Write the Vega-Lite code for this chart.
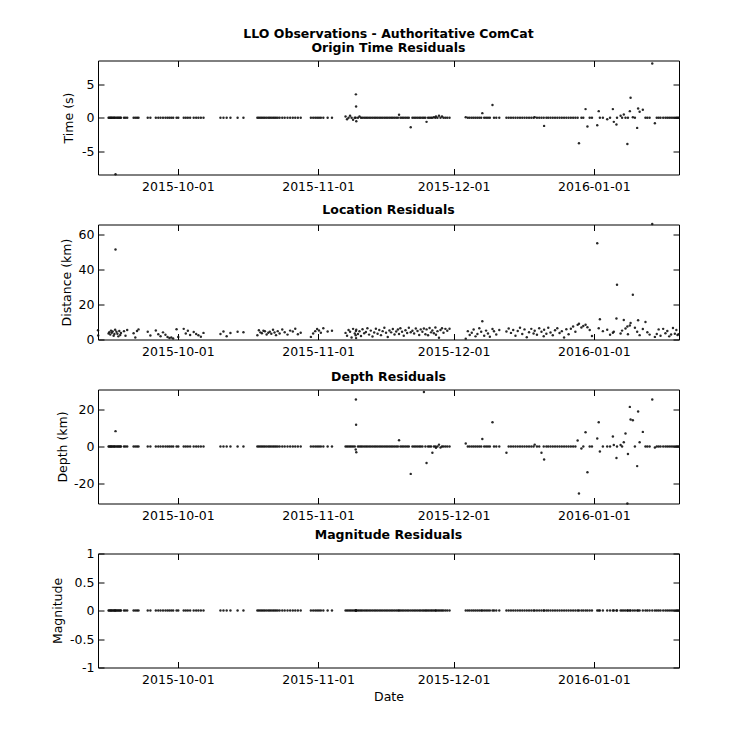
{
"$schema": "https://vega.github.io/schema/vega-lite/v6.json",
"padding": {"left": 50, "top": 26.5, "right": 10, "bottom": 10},
"background": "#ffffff",
"datasets": {"ev": [
{"date":"2015-09-13T08:00Z","time":null,"dist":5.3,"depth":null,"mag":null},
{"date":"2015-09-13T09:00Z","time":null,"dist":2.3,"depth":null,"mag":null},
{"date":"2015-09-15T16:00Z","time":0,"dist":3.5,"depth":0,"mag":0},
{"date":"2015-09-15T20:00Z","time":0,"dist":4.2,"depth":0,"mag":0},
{"date":"2015-09-16T01:00Z","time":0,"dist":2.8,"depth":0,"mag":0},
{"date":"2015-09-16T05:00Z","time":0,"dist":5.1,"depth":0,"mag":0},
{"date":"2015-09-16T09:00Z","time":0,"dist":3.9,"depth":0,"mag":0},
{"date":"2015-09-16T14:00Z","time":0,"dist":4.6,"depth":0,"mag":0},
{"date":"2015-09-16T19:00Z","time":0,"dist":2.2,"depth":0,"mag":0},
{"date":"2015-09-16T23:00Z","time":0,"dist":3.1,"depth":0,"mag":0},
{"date":"2015-09-17T03:00Z","time":0,"dist":5.6,"depth":0,"mag":0},
{"date":"2015-09-17T05:00Z","time":-8.4,"dist":51.6,"depth":8.3,"mag":0},
{"date":"2015-09-17T10:00Z","time":0,"dist":4.4,"depth":0,"mag":0},
{"date":"2015-09-17T15:00Z","time":0,"dist":3.3,"depth":0,"mag":0},
{"date":"2015-09-17T20:00Z","time":0,"dist":1.8,"depth":0,"mag":0},
{"date":"2015-09-18T01:00Z","time":0,"dist":4.9,"depth":0,"mag":0},
{"date":"2015-09-18T06:00Z","time":0,"dist":2.6,"depth":0,"mag":0},
{"date":"2015-09-18T10:00Z","time":0,"dist":3.7,"depth":0,"mag":0},
{"date":"2015-09-19T02:00Z","time":0,"dist":4.8,"depth":0,"mag":0},
{"date":"2015-09-19T10:00Z","time":0,"dist":2.1,"depth":0,"mag":0},
{"date":"2015-09-19T19:00Z","time":0,"dist":5.5,"depth":0,"mag":0},
{"date":"2015-09-21T05:00Z","time":0,"dist":3.6,"depth":0,"mag":0},
{"date":"2015-09-21T14:00Z","time":0,"dist":1.2,"depth":0,"mag":0},
{"date":"2015-09-21T23:00Z","time":0,"dist":4.9,"depth":0,"mag":0},
{"date":"2015-09-22T07:00Z","time":0,"dist":5.8,"depth":0,"mag":0},
{"date":"2015-09-24T08:00Z","time":0,"dist":4.5,"depth":0,"mag":0},
{"date":"2015-09-24T22:00Z","time":0,"dist":2.3,"depth":0,"mag":0},
{"date":"2015-09-26T03:00Z","time":0,"dist":5.2,"depth":0,"mag":0},
{"date":"2015-09-26T16:00Z","time":0,"dist":3.0,"depth":0,"mag":0},
{"date":"2015-09-27T04:00Z","time":0,"dist":1.9,"depth":0,"mag":0},
{"date":"2015-09-27T17:00Z","time":0,"dist":4.1,"depth":0,"mag":0},
{"date":"2015-09-28T06:00Z","time":0,"dist":2.7,"depth":0,"mag":0},
{"date":"2015-09-28T17:00Z","time":0,"dist":1.4,"depth":0,"mag":0},
{"date":"2015-09-29T03:00Z","time":0,"dist":0.9,"depth":0,"mag":0},
{"date":"2015-09-29T13:00Z","time":0,"dist":1.2,"depth":0,"mag":0},
{"date":"2015-09-29T23:00Z","time":0,"dist":0.6,"depth":0,"mag":0},
{"date":"2015-09-30T17:00Z","time":0,"dist":5.9,"depth":0,"mag":0},
{"date":"2015-10-01T02:00Z","time":0,"dist":1.5,"depth":0,"mag":0},
{"date":"2015-10-02T07:00Z","time":0,"dist":6.1,"depth":0,"mag":0},
{"date":"2015-10-02T18:00Z","time":0,"dist":3.4,"depth":0,"mag":0},
{"date":"2015-10-03T05:00Z","time":0,"dist":5.0,"depth":0,"mag":0},
{"date":"2015-10-03T17:00Z","time":0,"dist":2.6,"depth":0,"mag":0},
{"date":"2015-10-04T12:00Z","time":0,"dist":4.3,"depth":0,"mag":0},
{"date":"2015-10-05T01:00Z","time":0,"dist":3.1,"depth":0,"mag":0},
{"date":"2015-10-05T13:00Z","time":0,"dist":2.4,"depth":0,"mag":0},
{"date":"2015-10-06T02:00Z","time":0,"dist":1.6,"depth":0,"mag":0},
{"date":"2015-10-06T16:00Z","time":0,"dist":3.8,"depth":0,"mag":0},
{"date":"2015-10-10T10:00Z","time":0,"dist":3.2,"depth":0,"mag":0},
{"date":"2015-10-11T02:00Z","time":0,"dist":4.6,"depth":0,"mag":0},
{"date":"2015-10-11T19:00Z","time":0,"dist":1.9,"depth":0,"mag":0},
{"date":"2015-10-12T15:00Z","time":0,"dist":3.7,"depth":0,"mag":0},
{"date":"2015-10-14T05:00Z","time":0,"dist":4.5,"depth":0,"mag":0},
{"date":"2015-10-15T12:00Z","time":0,"dist":4.2,"depth":0,"mag":0},
{"date":"2015-10-18T14:00Z","time":0,"dist":2.4,"depth":0,"mag":0},
{"date":"2015-10-18T22:00Z","time":0,"dist":5.3,"depth":0,"mag":0},
{"date":"2015-10-19T06:00Z","time":0,"dist":4.1,"depth":0,"mag":0},
{"date":"2015-10-19T14:00Z","time":0,"dist":3.6,"depth":0,"mag":0},
{"date":"2015-10-19T22:00Z","time":0,"dist":5.0,"depth":0,"mag":0},
{"date":"2015-10-20T06:00Z","time":0,"dist":4.7,"depth":0,"mag":0},
{"date":"2015-10-20T15:00Z","time":0,"dist":2.9,"depth":0,"mag":0},
{"date":"2015-10-21T00:00Z","time":0,"dist":3.9,"depth":0,"mag":0},
{"date":"2015-10-21T08:00Z","time":0,"dist":4.4,"depth":0,"mag":0},
{"date":"2015-10-21T16:00Z","time":0,"dist":3.3,"depth":0,"mag":0},
{"date":"2015-10-22T01:00Z","time":0,"dist":5.6,"depth":0,"mag":0},
{"date":"2015-10-22T09:00Z","time":0,"dist":4.0,"depth":0,"mag":0},
{"date":"2015-10-22T17:00Z","time":0,"dist":2.5,"depth":0,"mag":0},
{"date":"2015-10-23T02:00Z","time":0,"dist":4.8,"depth":0,"mag":0},
{"date":"2015-10-23T12:00Z","time":0,"dist":3.5,"depth":0,"mag":0},
{"date":"2015-10-24T02:00Z","time":0,"dist":5.7,"depth":0,"mag":0},
{"date":"2015-10-24T15:00Z","time":0,"dist":4.2,"depth":0,"mag":0},
{"date":"2015-10-25T06:00Z","time":0,"dist":2.8,"depth":0,"mag":0},
{"date":"2015-10-25T20:00Z","time":0,"dist":5.1,"depth":0,"mag":0},
{"date":"2015-10-26T10:00Z","time":0,"dist":4.6,"depth":0,"mag":0},
{"date":"2015-10-26T23:00Z","time":0,"dist":6.2,"depth":0,"mag":0},
{"date":"2015-10-27T13:00Z","time":0,"dist":3.0,"depth":0,"mag":0},
{"date":"2015-10-28T04:00Z","time":0,"dist":3.9,"depth":0,"mag":0},
{"date":"2015-10-30T10:00Z","time":0,"dist":1.5,"depth":0,"mag":0},
{"date":"2015-10-30T22:00Z","time":0,"dist":3.4,"depth":0,"mag":0},
{"date":"2015-10-31T09:00Z","time":0,"dist":4.8,"depth":0,"mag":0},
{"date":"2015-10-31T19:00Z","time":0,"dist":6.0,"depth":0,"mag":0},
{"date":"2015-11-01T05:00Z","time":0,"dist":5.2,"depth":0,"mag":0},
{"date":"2015-11-01T15:00Z","time":0,"dist":3.9,"depth":0,"mag":0},
{"date":"2015-11-02T04:00Z","time":0,"dist":6.4,"depth":0,"mag":0},
{"date":"2015-11-03T03:00Z","time":0,"dist":4.6,"depth":0,"mag":0},
{"date":"2015-11-04T02:00Z","time":0,"dist":5.0,"depth":0,"mag":0},
{"date":"2015-11-07T02:00Z","time":0.2,"dist":3.8,"depth":0,"mag":0},
{"date":"2015-11-07T10:00Z","time":-0.2,"dist":2.1,"depth":0,"mag":0},
{"date":"2015-11-07T18:00Z","time":0,"dist":5.4,"depth":0,"mag":0},
{"date":"2015-11-08T02:00Z","time":0.3,"dist":4.4,"depth":0,"mag":0},
{"date":"2015-11-08T10:00Z","time":0,"dist":1.2,"depth":0,"mag":0},
{"date":"2015-11-08T18:00Z","time":-0.3,"dist":6.1,"depth":0,"mag":0},
{"date":"2015-11-09T03:00Z","time":0,"dist":3.5,"depth":0,"mag":0},
{"date":"2015-11-09T08:00Z","time":0,"dist":2.4,"depth":-1.6,"mag":0},
{"date":"2015-11-09T09:00Z","time":3.5,"dist":4.9,"depth":25.4,"mag":0},
{"date":"2015-11-09T10:00Z","time":1.7,"dist":0.8,"depth":11.7,"mag":0},
{"date":"2015-11-09T11:00Z","time":-0.5,"dist":5.6,"depth":-3.1,"mag":0},
{"date":"2015-11-09T20:00Z","time":0,"dist":3.1,"depth":0,"mag":0},
{"date":"2015-11-10T04:00Z","time":0.2,"dist":4.7,"depth":0,"mag":0},
{"date":"2015-11-10T12:00Z","time":0,"dist":2.0,"depth":0,"mag":0},
{"date":"2015-11-10T20:00Z","time":0,"dist":5.9,"depth":0,"mag":0},
{"date":"2015-11-11T05:00Z","time":0,"dist":3.6,"depth":0,"mag":0},
{"date":"2015-11-11T14:00Z","time":0,"dist":4.3,"depth":0,"mag":0},
{"date":"2015-11-11T22:00Z","time":0,"dist":6.5,"depth":0,"mag":0},
{"date":"2015-11-12T07:00Z","time":0,"dist":2.8,"depth":0,"mag":0},
{"date":"2015-11-12T16:00Z","time":0,"dist":5.1,"depth":0,"mag":0},
{"date":"2015-11-13T01:00Z","time":0,"dist":1.7,"depth":0,"mag":0},
{"date":"2015-11-13T10:00Z","time":0,"dist":4.0,"depth":0,"mag":0},
{"date":"2015-11-13T19:00Z","time":0,"dist":6.2,"depth":0,"mag":0},
{"date":"2015-11-14T04:00Z","time":0,"dist":3.3,"depth":0,"mag":0},
{"date":"2015-11-14T13:00Z","time":0,"dist":5.5,"depth":0,"mag":0},
{"date":"2015-11-14T22:00Z","time":0,"dist":2.5,"depth":0,"mag":0},
{"date":"2015-11-15T07:00Z","time":0,"dist":4.8,"depth":0,"mag":0},
{"date":"2015-11-15T16:00Z","time":0,"dist":6.7,"depth":0,"mag":0},
{"date":"2015-11-16T01:00Z","time":0,"dist":3.9,"depth":0,"mag":0},
{"date":"2015-11-16T10:00Z","time":0,"dist":1.4,"depth":0,"mag":0},
{"date":"2015-11-16T19:00Z","time":0,"dist":5.2,"depth":0,"mag":0},
{"date":"2015-11-17T04:00Z","time":0,"dist":4.1,"depth":0,"mag":0},
{"date":"2015-11-17T13:00Z","time":0,"dist":6.0,"depth":0,"mag":0},
{"date":"2015-11-17T22:00Z","time":0,"dist":2.9,"depth":0,"mag":0},
{"date":"2015-11-18T07:00Z","time":0,"dist":4.6,"depth":0,"mag":0},
{"date":"2015-11-18T16:00Z","time":0,"dist":5.7,"depth":0,"mag":0},
{"date":"2015-11-18T22:00Z","time":0.45,"dist":3.2,"depth":3.4,"mag":0},
{"date":"2015-11-19T05:00Z","time":0,"dist":6.4,"depth":0,"mag":0},
{"date":"2015-11-19T14:00Z","time":0,"dist":4.5,"depth":0,"mag":0},
{"date":"2015-11-19T23:00Z","time":0,"dist":2.2,"depth":0,"mag":0},
{"date":"2015-11-20T08:00Z","time":0,"dist":5.3,"depth":0,"mag":0},
{"date":"2015-11-20T17:00Z","time":0,"dist":3.7,"depth":0,"mag":0},
{"date":"2015-11-21T02:00Z","time":0,"dist":6.8,"depth":0,"mag":0},
{"date":"2015-11-21T12:00Z","time":-1.4,"dist":4.2,"depth":-14.8,"mag":0},
{"date":"2015-11-21T21:00Z","time":0,"dist":5.0,"depth":0,"mag":0},
{"date":"2015-11-22T06:00Z","time":0,"dist":3.4,"depth":0,"mag":0},
{"date":"2015-11-22T15:00Z","time":0,"dist":6.3,"depth":0,"mag":0},
{"date":"2015-11-23T00:00Z","time":0,"dist":4.9,"depth":0,"mag":0},
{"date":"2015-11-23T09:00Z","time":0,"dist":2.6,"depth":0,"mag":0},
{"date":"2015-11-23T17:00Z","time":0,"dist":5.8,"depth":0,"mag":0},
{"date":"2015-11-24T02:00Z","time":0,"dist":4.5,"depth":0,"mag":0},
{"date":"2015-11-24T10:00Z","time":0,"dist":6.3,"depth":29.4,"mag":0},
{"date":"2015-11-24T18:00Z","time":0,"dist":3.0,"depth":0,"mag":0},
{"date":"2015-11-25T00:00Z","time":-0.6,"dist":5.8,"depth":-8.9,"mag":0},
{"date":"2015-11-25T08:00Z","time":0,"dist":2.4,"depth":0,"mag":0},
{"date":"2015-11-25T16:00Z","time":0,"dist":6.6,"depth":0,"mag":0},
{"date":"2015-11-26T00:00Z","time":0,"dist":4.1,"depth":0,"mag":0},
{"date":"2015-11-26T07:00Z","time":0,"dist":5.2,"depth":-3.4,"mag":0},
{"date":"2015-11-26T15:00Z","time":0.1,"dist":3.6,"depth":0,"mag":0},
{"date":"2015-11-26T23:00Z","time":0,"dist":6.9,"depth":0,"mag":0},
{"date":"2015-11-27T02:00Z","time":0.2,"dist":2.7,"depth":-0.7,"mag":0},
{"date":"2015-11-27T10:00Z","time":0,"dist":4.8,"depth":0,"mag":0},
{"date":"2015-11-27T18:00Z","time":0.3,"dist":1.0,"depth":1.0,"mag":0},
{"date":"2015-11-28T02:00Z","time":0,"dist":5.5,"depth":-0.5,"mag":0},
{"date":"2015-11-28T10:00Z","time":0.2,"dist":6.4,"depth":0,"mag":0},
{"date":"2015-11-28T18:00Z","time":0,"dist":3.9,"depth":0,"mag":0},
{"date":"2015-11-29T04:00Z","time":0,"dist":6.1,"depth":0,"mag":0},
{"date":"2015-11-29T14:00Z","time":0,"dist":5.0,"depth":0,"mag":0},
{"date":"2015-11-30T02:00Z","time":0,"dist":6.2,"depth":0,"mag":0},
{"date":"2015-12-03T16:00Z","time":0.1,"dist":0.5,"depth":1.6,"mag":0},
{"date":"2015-12-04T03:00Z","time":0,"dist":4.8,"depth":0,"mag":0},
{"date":"2015-12-04T13:00Z","time":0,"dist":2.6,"depth":0,"mag":0},
{"date":"2015-12-05T00:00Z","time":0,"dist":3.9,"depth":0,"mag":0},
{"date":"2015-12-05T10:00Z","time":0,"dist":5.7,"depth":0,"mag":0},
{"date":"2015-12-05T20:00Z","time":0,"dist":1.8,"depth":0,"mag":0},
{"date":"2015-12-06T06:00Z","time":0,"dist":3.2,"depth":0,"mag":0},
{"date":"2015-12-06T16:00Z","time":0,"dist":6.4,"depth":0,"mag":0},
{"date":"2015-12-07T02:00Z","time":0,"dist":4.4,"depth":0,"mag":0},
{"date":"2015-12-07T08:00Z","time":0.7,"dist":10.5,"depth":4.1,"mag":0},
{"date":"2015-12-07T18:00Z","time":0,"dist":2.2,"depth":0,"mag":0},
{"date":"2015-12-08T04:00Z","time":0,"dist":5.1,"depth":0,"mag":0},
{"date":"2015-12-08T14:00Z","time":0,"dist":3.5,"depth":0,"mag":0},
{"date":"2015-12-09T00:00Z","time":0,"dist":1.6,"depth":0,"mag":0},
{"date":"2015-12-09T14:00Z","time":1.9,"dist":6.0,"depth":13.1,"mag":0},
{"date":"2015-12-09T22:00Z","time":0,"dist":4.7,"depth":0,"mag":0},
{"date":"2015-12-10T10:00Z","time":0,"dist":2.9,"depth":0,"mag":0},
{"date":"2015-12-11T02:00Z","time":0,"dist":5.4,"depth":0,"mag":0},
{"date":"2015-12-12T16:00Z","time":0,"dist":4.6,"depth":-3.4,"mag":0},
{"date":"2015-12-13T04:00Z","time":0,"dist":6.3,"depth":0,"mag":0},
{"date":"2015-12-13T16:00Z","time":0,"dist":3.8,"depth":0,"mag":0},
{"date":"2015-12-14T04:00Z","time":0,"dist":5.5,"depth":0,"mag":0},
{"date":"2015-12-14T16:00Z","time":0,"dist":2.1,"depth":0,"mag":0},
{"date":"2015-12-15T04:00Z","time":0,"dist":4.9,"depth":0,"mag":0},
{"date":"2015-12-15T16:00Z","time":0,"dist":6.7,"depth":0,"mag":0},
{"date":"2015-12-16T04:00Z","time":0,"dist":3.2,"depth":0,"mag":0},
{"date":"2015-12-16T16:00Z","time":0,"dist":5.8,"depth":0,"mag":0},
{"date":"2015-12-17T04:00Z","time":0,"dist":1.3,"depth":0,"mag":0},
{"date":"2015-12-17T16:00Z","time":0,"dist":4.2,"depth":0,"mag":0},
{"date":"2015-12-18T04:00Z","time":0,"dist":6.1,"depth":0,"mag":0},
{"date":"2015-12-18T16:00Z","time":0,"dist":3.5,"depth":0,"mag":0},
{"date":"2015-12-18T22:00Z","time":0.1,"dist":5.0,"depth":1.0,"mag":0},
{"date":"2015-12-19T10:00Z","time":0,"dist":2.7,"depth":0,"mag":0},
{"date":"2015-12-19T22:00Z","time":0,"dist":6.4,"depth":0,"mag":0},
{"date":"2015-12-20T10:00Z","time":0,"dist":4.4,"depth":-3.4,"mag":0},
{"date":"2015-12-20T22:00Z","time":0,"dist":1.9,"depth":0,"mag":0},
{"date":"2015-12-21T00:00Z","time":-1.2,"dist":5.6,"depth":-7.0,"mag":0},
{"date":"2015-12-21T12:00Z","time":0,"dist":3.3,"depth":0,"mag":0},
{"date":"2015-12-21T22:00Z","time":0,"dist":6.8,"depth":0,"mag":0},
{"date":"2015-12-22T10:00Z","time":0,"dist":4.0,"depth":0,"mag":0},
{"date":"2015-12-22T22:00Z","time":0,"dist":2.4,"depth":0,"mag":0},
{"date":"2015-12-23T10:00Z","time":0,"dist":5.3,"depth":0,"mag":0},
{"date":"2015-12-23T22:00Z","time":0,"dist":6.5,"depth":0,"mag":0},
{"date":"2015-12-24T10:00Z","time":0,"dist":3.7,"depth":0,"mag":0},
{"date":"2015-12-24T22:00Z","time":0,"dist":4.8,"depth":0,"mag":0},
{"date":"2015-12-25T10:00Z","time":0,"dist":1.1,"depth":0,"mag":0},
{"date":"2015-12-25T22:00Z","time":0,"dist":5.9,"depth":0,"mag":0},
{"date":"2015-12-26T10:00Z","time":0,"dist":3.0,"depth":0,"mag":0},
{"date":"2015-12-26T22:00Z","time":0,"dist":6.2,"depth":0,"mag":0},
{"date":"2015-12-27T10:00Z","time":0,"dist":7.5,"depth":0,"mag":0},
{"date":"2015-12-27T22:00Z","time":0,"dist":4.5,"depth":0,"mag":0},
{"date":"2015-12-28T10:00Z","time":0,"dist":8.4,"depth":3.2,"mag":0},
{"date":"2015-12-28T17:00Z","time":-3.8,"dist":9.0,"depth":-25.4,"mag":0},
{"date":"2015-12-29T06:00Z","time":0,"dist":6.9,"depth":-1.1,"mag":0},
{"date":"2015-12-29T16:00Z","time":0,"dist":7.8,"depth":0,"mag":0},
{"date":"2015-12-30T04:00Z","time":1.3,"dist":8.5,"depth":7.7,"mag":0},
{"date":"2015-12-30T14:00Z","time":-1.3,"dist":7.0,"depth":-13.9,"mag":0},
{"date":"2015-12-31T02:00Z","time":0,"dist":5.5,"depth":0,"mag":0},
{"date":"2015-12-31T14:00Z","time":0,"dist":2.0,"depth":0,"mag":0},
{"date":"2016-01-01T18:00Z","time":-1.1,"dist":55.2,"depth":4.3,"mag":0},
{"date":"2016-01-02T02:00Z","time":1.0,"dist":6.5,"depth":13.1,"mag":0},
{"date":"2016-01-02T08:00Z","time":0,"dist":11.6,"depth":-2.7,"mag":0},
{"date":"2016-01-03T00:00Z","time":0,"dist":4.8,"depth":0,"mag":0},
{"date":"2016-01-03T23:00Z","time":-0.2,"dist":5.6,"depth":0,"mag":0},
{"date":"2016-01-04T14:00Z","time":0,"dist":2.7,"depth":0,"mag":0},
{"date":"2016-01-05T05:00Z","time":1.3,"dist":3.9,"depth":5.4,"mag":0},
{"date":"2016-01-05T10:00Z","time":-0.6,"dist":4.5,"depth":0.8,"mag":0},
{"date":"2016-01-06T00:00Z","time":-1.0,"dist":12.0,"depth":-6.2,"mag":0},
{"date":"2016-01-06T03:00Z","time":0,"dist":31.4,"depth":0,"mag":0},
{"date":"2016-01-06T22:00Z","time":0.3,"dist":3.5,"depth":0.8,"mag":0},
{"date":"2016-01-07T06:00Z","time":0,"dist":5.1,"depth":0,"mag":0},
{"date":"2016-01-07T15:00Z","time":0.5,"dist":11.2,"depth":2.3,"mag":0},
{"date":"2016-01-08T00:00Z","time":0,"dist":6.3,"depth":7.0,"mag":0},
{"date":"2016-01-08T10:00Z","time":-3.9,"dist":7.5,"depth":-30.8,"mag":0},
{"date":"2016-01-08T13:00Z","time":0,"dist":3.0,"depth":-4.0,"mag":0},
{"date":"2016-01-08T23:00Z","time":1.0,"dist":8.0,"depth":21.4,"mag":0},
{"date":"2016-01-09T03:00Z","time":3.0,"dist":9.5,"depth":14.6,"mag":0},
{"date":"2016-01-09T15:00Z","time":0.1,"dist":25.7,"depth":14.2,"mag":0},
{"date":"2016-01-10T02:00Z","time":0,"dist":6.8,"depth":0,"mag":0},
{"date":"2016-01-10T14:00Z","time":-1.5,"dist":4.4,"depth":-10.6,"mag":0},
{"date":"2016-01-10T19:00Z","time":1.4,"dist":11.0,"depth":18.9,"mag":0},
{"date":"2016-01-11T03:00Z","time":0.9,"dist":2.5,"depth":2.3,"mag":0},
{"date":"2016-01-11T20:00Z","time":1.2,"dist":6.0,"depth":7.9,"mag":0},
{"date":"2016-01-12T10:00Z","time":0,"dist":10.0,"depth":0,"mag":0},
{"date":"2016-01-12T20:00Z","time":0,"dist":4.2,"depth":0,"mag":0},
{"date":"2016-01-13T08:00Z","time":0,"dist":2.8,"depth":0,"mag":0},
{"date":"2016-01-13T22:00Z","time":8.1,"dist":66.3,"depth":25.4,"mag":0},
{"date":"2016-01-14T12:00Z","time":-0.8,"dist":1.5,"depth":-0.5,"mag":0},
{"date":"2016-01-14T22:00Z","time":0,"dist":3.2,"depth":0,"mag":0},
{"date":"2016-01-15T08:00Z","time":0,"dist":5.8,"depth":0,"mag":0},
{"date":"2016-01-15T18:00Z","time":0,"dist":2.2,"depth":0,"mag":0},
{"date":"2016-01-16T08:00Z","time":0,"dist":6.1,"depth":0,"mag":0},
{"date":"2016-01-16T20:00Z","time":0,"dist":3.6,"depth":0,"mag":0},
{"date":"2016-01-17T06:00Z","time":0,"dist":4.9,"depth":0,"mag":0},
{"date":"2016-01-17T16:00Z","time":0,"dist":1.8,"depth":0,"mag":0},
{"date":"2016-01-18T02:00Z","time":0,"dist":2.9,"depth":0,"mag":0},
{"date":"2016-01-18T12:00Z","time":0,"dist":6.6,"depth":0,"mag":0},
{"date":"2016-01-18T22:00Z","time":0,"dist":3.3,"depth":0,"mag":0},
{"date":"2016-01-19T06:00Z","time":0,"dist":5.4,"depth":0,"mag":0},
{"date":"2016-01-19T12:00Z","time":0,"dist":2.6,"depth":0,"mag":0},
{"date":"2016-01-19T18:00Z","time":0,"dist":3.0,"depth":0,"mag":0}
]},
"data": {"name": "ev"},
"vconcat": [
{
"title": {"text": ["LLO Observations - Authoritative ComCat", "Origin Time Residuals"]},
"width": 581, "height": 114,
"layer": [
{"mark": {"type": "circle", "size": 6, "color": "#111", "opacity": 0.9},
"encoding": {
"x": {"field": "date", "type": "temporal", "scale": {"type": "utc", "domain": [{"year": 2015, "month": 9, "date": 13, "hours": 8, "utc": true}, {"year": 2016, "month": 1, "date": 19, "hours": 20, "utc": true}]},
"axis": {"values": [{"year": 2015, "month": 10, "date": 1, "utc": true}, {"year": 2015, "month": 11, "date": 1, "utc": true}, {"year": 2015, "month": 12, "date": 1, "utc": true}, {"year": 2016, "month": 1, "date": 1, "utc": true}], "labelExpr": "utcFormat(datum.value, '%Y-%m-%d')", "title": null, "tickSize": -6, "labelPadding": 12}},
"y": {"field": "time", "type": "quantitative", "scale": {"domain": [-8.45, 8.55], "nice": false, "zero": false},
"axis": {"values": [-5, 0, 5], "labelExpr": "'' + datum.value", "title": "Time (s)", "titleX": -30, "titleY": 57, "titleBaseline": "middle", "tickSize": -6, "labelPadding": 10}}
}},
{"mark": {"type": "circle", "size": 6, "opacity": 0},
"encoding": {
"x": {"field": "date", "type": "temporal", "axis": {"orient": "top", "labels": false, "title": null, "tickSize": -6, "values": [{"year": 2015, "month": 10, "date": 1, "utc": true}, {"year": 2015, "month": 11, "date": 1, "utc": true}, {"year": 2015, "month": 12, "date": 1, "utc": true}, {"year": 2016, "month": 1, "date": 1, "utc": true}]}},
"y": {"field": "time", "type": "quantitative", "axis": {"orient": "right", "labels": false, "title": null, "tickSize": -6, "values": [-5, 0, 5]}}
}}
],
"resolve": {"axis": {"x": "independent", "y": "independent"}}
},
{
"title": {"text": "Location Residuals"},
"width": 581, "height": 115,
"layer": [
{"mark": {"type": "circle", "size": 6, "color": "#111", "opacity": 0.9},
"encoding": {
"x": {"field": "date", "type": "temporal", "scale": {"type": "utc", "domain": [{"year": 2015, "month": 9, "date": 13, "hours": 8, "utc": true}, {"year": 2016, "month": 1, "date": 19, "hours": 20, "utc": true}]},
"axis": {"values": [{"year": 2015, "month": 10, "date": 1, "utc": true}, {"year": 2015, "month": 11, "date": 1, "utc": true}, {"year": 2015, "month": 12, "date": 1, "utc": true}, {"year": 2016, "month": 1, "date": 1, "utc": true}], "labelExpr": "utcFormat(datum.value, '%Y-%m-%d')", "title": null, "tickSize": -6, "labelPadding": 12}},
"y": {"field": "dist", "type": "quantitative", "scale": {"domain": [0, 66], "nice": false, "zero": false},
"axis": {"values": [0, 20, 40, 60], "labelExpr": "'' + datum.value", "title": "Distance (km)", "titleX": -32, "titleY": 57.5, "titleBaseline": "middle", "tickSize": -6, "labelPadding": 10}}
}},
{"mark": {"type": "circle", "size": 6, "opacity": 0},
"encoding": {
"x": {"field": "date", "type": "temporal", "axis": {"orient": "top", "labels": false, "title": null, "tickSize": -6, "values": [{"year": 2015, "month": 10, "date": 1, "utc": true}, {"year": 2015, "month": 11, "date": 1, "utc": true}, {"year": 2015, "month": 12, "date": 1, "utc": true}, {"year": 2016, "month": 1, "date": 1, "utc": true}]}},
"y": {"field": "dist", "type": "quantitative", "axis": {"orient": "right", "labels": false, "title": null, "tickSize": -6, "values": [0, 20, 40, 60]}}
}}
],
"resolve": {"axis": {"x": "independent", "y": "independent"}}
},
{
"title": {"text": "Depth Residuals"},
"width": 581, "height": 114,
"layer": [
{"mark": {"type": "circle", "size": 6, "color": "#111", "opacity": 0.9},
"encoding": {
"x": {"field": "date", "type": "temporal", "scale": {"type": "utc", "domain": [{"year": 2015, "month": 9, "date": 13, "hours": 8, "utc": true}, {"year": 2016, "month": 1, "date": 19, "hours": 20, "utc": true}]},
"axis": {"values": [{"year": 2015, "month": 10, "date": 1, "utc": true}, {"year": 2015, "month": 11, "date": 1, "utc": true}, {"year": 2015, "month": 12, "date": 1, "utc": true}, {"year": 2016, "month": 1, "date": 1, "utc": true}], "labelExpr": "utcFormat(datum.value, '%Y-%m-%d')", "title": null, "tickSize": -6, "labelPadding": 12}},
"y": {"field": "depth", "type": "quantitative", "scale": {"domain": [-30.8, 30.8], "nice": false, "zero": false},
"axis": {"values": [-20, 0, 20], "labelExpr": "'' + datum.value", "title": "Depth (km)", "titleX": -36, "titleY": 57, "titleBaseline": "middle", "tickSize": -6, "labelPadding": 10}}
}},
{"mark": {"type": "circle", "size": 6, "opacity": 0},
"encoding": {
"x": {"field": "date", "type": "temporal", "axis": {"orient": "top", "labels": false, "title": null, "tickSize": -6, "values": [{"year": 2015, "month": 10, "date": 1, "utc": true}, {"year": 2015, "month": 11, "date": 1, "utc": true}, {"year": 2015, "month": 12, "date": 1, "utc": true}, {"year": 2016, "month": 1, "date": 1, "utc": true}]}},
"y": {"field": "depth", "type": "quantitative", "axis": {"orient": "right", "labels": false, "title": null, "tickSize": -6, "values": [-20, 0, 20]}}
}}
],
"resolve": {"axis": {"x": "independent", "y": "independent"}}
},
{
"title": {"text": "Magnitude Residuals"},
"width": 581, "height": 114,
"layer": [
{"mark": {"type": "circle", "size": 6, "color": "#111", "opacity": 0.9},
"encoding": {
"x": {"field": "date", "type": "temporal", "scale": {"type": "utc", "domain": [{"year": 2015, "month": 9, "date": 13, "hours": 8, "utc": true}, {"year": 2016, "month": 1, "date": 19, "hours": 20, "utc": true}]},
"axis": {"values": [{"year": 2015, "month": 10, "date": 1, "utc": true}, {"year": 2015, "month": 11, "date": 1, "utc": true}, {"year": 2015, "month": 12, "date": 1, "utc": true}, {"year": 2016, "month": 1, "date": 1, "utc": true}], "labelExpr": "utcFormat(datum.value, '%Y-%m-%d')", "title": "Date", "titleY": 29, "titleBaseline": "middle", "tickSize": -6, "labelPadding": 12}},
"y": {"field": "mag", "type": "quantitative", "scale": {"domain": [-1, 1], "nice": false, "zero": false},
"axis": {"values": [-1, -0.5, 0, 0.5, 1], "labelExpr": "'' + datum.value", "title": "Magnitude", "titleX": -41, "titleY": 57, "titleBaseline": "middle", "tickSize": -6, "labelPadding": 10}}
}},
{"mark": {"type": "circle", "size": 6, "opacity": 0},
"encoding": {
"x": {"field": "date", "type": "temporal", "axis": {"orient": "top", "labels": false, "title": null, "tickSize": -6, "values": [{"year": 2015, "month": 10, "date": 1, "utc": true}, {"year": 2015, "month": 11, "date": 1, "utc": true}, {"year": 2015, "month": 12, "date": 1, "utc": true}, {"year": 2016, "month": 1, "date": 1, "utc": true}]}},
"y": {"field": "mag", "type": "quantitative", "axis": {"orient": "right", "labels": false, "title": null, "tickSize": -6, "values": [-1, -0.5, 0, 0.5, 1]}}
}}
],
"resolve": {"axis": {"x": "independent", "y": "independent"}}
}
],
"spacing": 50,
"bounds": "flush",
"config": {
"view": {"stroke": "#000", "strokeWidth": 1},
"axis": {"domain": false, "grid": false, "labelFont": "DejaVu Sans", "labelFontSize": 12.5, "labelColor": "#000", "tickColor": "#000", "tickWidth": 1, "titleFont": "DejaVu Sans", "titleFontSize": 12.5, "titleFontWeight": "normal", "titleColor": "#000"},
"title": {"font": "DejaVu Sans", "fontSize": 12.5, "fontWeight": "bold", "color": "#000", "anchor": "middle", "frame": "group", "offset": 6, "baseline": "bottom", "lineHeight": 14}
}
}
